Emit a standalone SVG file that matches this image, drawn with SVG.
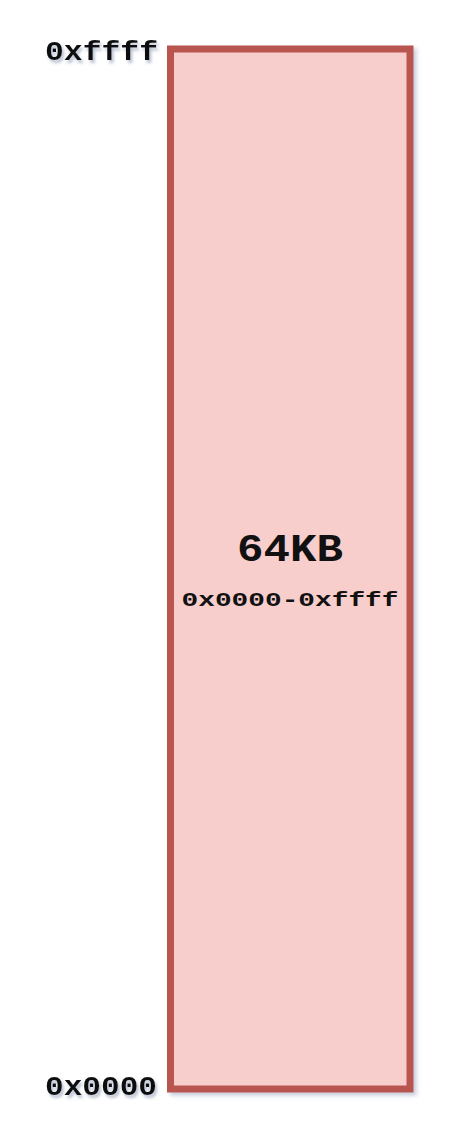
<svg xmlns="http://www.w3.org/2000/svg" width="451" height="1147" viewBox="0 0 451 1147">
  <defs>
    <filter id="shadow" x="-10%" y="-10%" width="130%" height="130%">
      <feDropShadow dx="3" dy="3" stdDeviation="2" flood-color="#8090b0" flood-opacity="0.45"/>
    </filter>
    <filter id="tshadow" x="-10%" y="-30%" width="130%" height="180%">
      <feDropShadow dx="2" dy="3" stdDeviation="1.5" flood-color="#7080a0" flood-opacity="0.5"/>
    </filter>
  </defs>
  <style>
    .mono { font-family: "Liberation Mono", "Courier New", monospace; font-weight: bold; fill: #111111; }
    .box { fill: #f8cecc; stroke: #b85450; stroke-width: 7; }
  </style>
  <rect width="451" height="1147" fill="#ffffff"/>
  <g id="memory">
    <rect class="box" x="170.5" y="49" width="239.5" height="1040" filter="url(#shadow)"/>
    <text class="mono" x="290" y="561" font-size="38" text-anchor="middle" textLength="106" lengthAdjust="spacingAndGlyphs">64KB</text>
    <text class="mono" x="290" y="606" font-size="21" text-anchor="middle" textLength="217" lengthAdjust="spacingAndGlyphs">0x0000-0xffff</text>
  </g>
  <g id="label-top">
    <text class="mono" x="45" y="60" font-size="28" textLength="113" lengthAdjust="spacingAndGlyphs" filter="url(#tshadow)">0xffff</text>
  </g>
  <g id="label-bottom">
    <text class="mono" x="45" y="1095" font-size="28" textLength="112" lengthAdjust="spacingAndGlyphs" filter="url(#tshadow)">0x0000</text>
  </g>
  <g id="connectors"/>
</svg>
